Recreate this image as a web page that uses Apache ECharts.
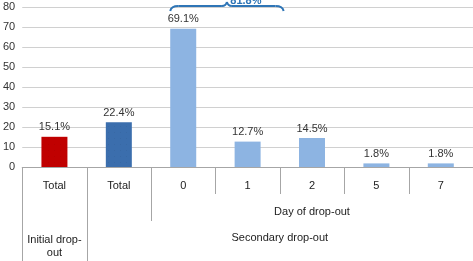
<!DOCTYPE html>
<html><head><meta charset="utf-8">
<script src="https://cdn.jsdelivr.net/npm/echarts@6/dist/echarts.min.js"></script>
<style>html,body{margin:0;padding:0;background:#fff}#c{width:473px;height:261px}</style>
</head><body><div id="c"></div>
<script>
const categories = ["Total", "Total", "0", "1", "2", "5", "7"];
const values = [15.1, 22.4, 69.1, 12.7, 14.5, 1.8, 1.8];
const labels = ["15.1%", "22.4%", "69.1%", "12.7%", "14.5%", "1.8%", "1.8%"];
const barColors = ["#C00000", "#3B6EAD", "#8DB4E2", "#8DB4E2", "#8DB4E2", "#8DB4E2", "#8DB4E2"];
const yTicks = [0, 10, 20, 30, 40, 50, 60, 70, 80];
const groupLabel1 = "Day of drop-out";
const groupLabel2a = "Initial drop-\nout";
const groupLabel2b = "Secondary drop-out";
const braceLabel = "81.8%";

const FONT = '"Liberation Sans", Arial, sans-serif';
const chart = echarts.init(document.getElementById('c'), null, {renderer: 'canvas'});
const decal = {symbol: 'rect', symbolSize: 0.3, color: 'rgba(0,0,0,0.3)', dashArrayX: [[1, 5]], dashArrayY: [1, 5]};
chart.setOption({
  animation: false,
  grid: {left: 22, right: 0, top: 7, bottom: 94},
  xAxis: {
    type: 'category', data: categories,
    axisLine: {lineStyle: {color: '#A6A6A6'}},
    axisTick: {show: false},
    axisLabel: {color: '#222', fontFamily: FONT, fontSize: 11, margin: 13}
  },
  yAxis: {
    type: 'value', min: 0, max: 80, interval: 10,
    axisLine: {show: false}, axisTick: {show: false},
    splitLine: {lineStyle: {color: '#D0D0D0'}},
    axisLabel: {color: '#333', fontFamily: FONT, fontSize: 11, margin: 7,
      formatter: v => yTicks.includes(v) ? String(v) : ''}
  },
  series: [{
    type: 'bar', barWidth: 26,
    data: values.map((v, i) => ({value: v, itemStyle: i < 2 ? {color: barColors[i], decal: decal} : {color: barColors[i]}})),
    label: {show: true, position: 'top', distance: 4, color: '#333', fontFamily: FONT, fontSize: 11,
      formatter: p => labels[p.dataIndex]}
  }]
});

function px(i) { return chart.convertToPixel({xAxisIndex: 0}, i); }
const step = px(1) - px(0);
const y0 = chart.convertToPixel({yAxisIndex: 0}, 0);
const bounds = [];
for (let i = 0; i <= categories.length; i++) bounds.push(px(0) - step / 2 + i * step);
const g = [];
const lineStyle = {stroke: '#A6A6A6', lineWidth: 1};
function vline(x, y2) {
  const xx = Math.round(x) + 0.5;
  g.push({type: 'line', shape: {x1: xx, y1: y0, x2: xx, y2: y2}, style: lineStyle});
}
vline(bounds[0], 261);
vline(bounds[1], 261);
vline(bounds[2], 221);
for (let i = 3; i < categories.length; i++) vline(bounds[i], 194);
// group labels
g.push({type: 'text', x: (bounds[2] + bounds[7]) / 2, y: 212, style: {text: groupLabel1, fontFamily: FONT, fontSize: 11, fill: '#222', align: 'center', verticalAlign: 'middle'}});
g.push({type: 'text', x: (bounds[1] + bounds[7]) / 2, y: 238, style: {text: groupLabel2b, fontFamily: FONT, fontSize: 11, fill: '#222', align: 'center', verticalAlign: 'middle'}});
g.push({type: 'text', x: (bounds[0] + bounds[1]) / 2, y: 246, style: {text: groupLabel2a, fontFamily: FONT, fontSize: 11, fill: '#222', align: 'center', verticalAlign: 'middle', lineHeight: 13}});
// brace over categories 0 and 1
const bx1 = px(2) - 13, bx2 = px(3) + 36, bm = (bx1 + bx2) / 2;
const by = 6;
const bs = {stroke: '#2E75B6', lineWidth: 2, fill: null};
g.push({type: 'bezierCurve', shape: {x1: bx1, y1: by + 5, cpx1: bx1 + 1, cpy1: by, x2: bx1 + 8, y2: by}, style: bs});
g.push({type: 'line', shape: {x1: bx1 + 8, y1: by, x2: bm - 5, y2: by}, style: bs});
g.push({type: 'bezierCurve', shape: {x1: bm - 5, y1: by, cpx1: bm - 1, cpy1: by, x2: bm, y2: by - 4}, style: bs});
g.push({type: 'bezierCurve', shape: {x1: bm, y1: by - 4, cpx1: bm + 1, cpy1: by, x2: bm + 5, y2: by}, style: bs});
g.push({type: 'line', shape: {x1: bm + 5, y1: by, x2: bx2 - 8, y2: by}, style: bs});
g.push({type: 'bezierCurve', shape: {x1: bx2 - 8, y1: by, cpx1: bx2 - 1, cpy1: by, x2: bx2, y2: by + 5}, style: bs});
g.push({type: 'text', x: bm + 19, y: 1, style: {text: braceLabel, fontFamily: FONT, fontSize: 11, fontWeight: 'bold', fill: '#2E75B6', align: 'center', verticalAlign: 'middle'}});
chart.setOption({graphic: g});
</script></body></html>
